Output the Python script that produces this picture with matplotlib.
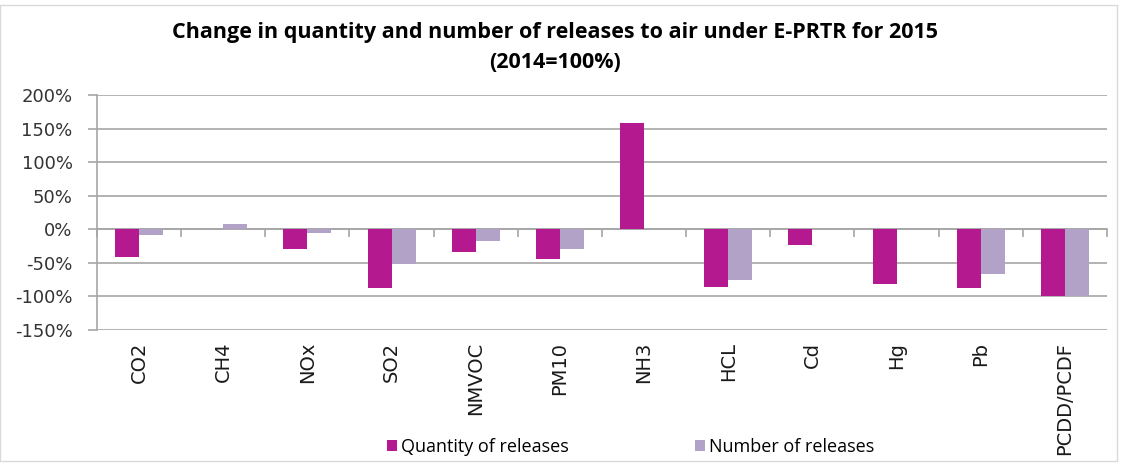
import matplotlib.pyplot as plt
import numpy as np
from matplotlib.patches import Rectangle

# ----- Data -------------------------------------------------------------------------------------------------------- #

POLLUTANTS = ['CO2', 'CH4', 'NOx', 'SO2', 'NMVOC', 'PM10', 'NH3', 'HCL', 'Cd', 'Hg', 'Pb', 'PCDD/PCDF']
QUANTITY_CHANGE = [-41, 0, -29, -87, -34, -45, 159, -86, -24, -82, -88, -100]
NUMBER_CHANGE = [-9, 7.5, -5.5, -51, -18, -30, 0, -76, 0, 0, -67, -100]

Y_TICKS = [-150, -100, -50, 0, 50, 100, 150, 200]

QUANTITY_COLOR = '#B5198F'
NUMBER_COLOR = '#B3A2C7'
GRID_COLOR = '#A6A6A6'

FONT = ['Open Sans', 'DejaVu Sans']
LABEL_FONT = ['DejaVu Sans']

# ----- Plot -------------------------------------------------------------------------------------------------------- #

fig = plt.figure(figsize=(11.26, 4.63), dpi=100)
ax = fig.add_axes([0.0861, 0.2873, 0.897, 0.5075])

x = np.arange(len(POLLUTANTS))
bar_width = 0.285
ax.bar(x - bar_width / 2, QUANTITY_CHANGE, bar_width, color=QUANTITY_COLOR, label='Quantity of releases', zorder=3)
ax.bar(x + bar_width / 2, NUMBER_CHANGE, bar_width, color=NUMBER_COLOR, label='Number of releases', zorder=3)

ax.set_xlim(-0.5, len(POLLUTANTS) - 0.5)
ax.set_ylim(Y_TICKS[0], Y_TICKS[-1])
ax.set_yticks(Y_TICKS)
ax.set_yticklabels([f'{v}%' for v in Y_TICKS], family=LABEL_FONT, fontsize=13, color='#333333')
ax.yaxis.grid(True, color=GRID_COLOR, linewidth=1.2, zorder=0)
ax.tick_params(axis='y', length=6.5, color=GRID_COLOR, width=1.2, pad=11)

ax.set_xticks(x)
ax.set_xticklabels(POLLUTANTS, rotation=90, family=LABEL_FONT, fontsize=14, va='top', color='#1a1a1a')
ax.tick_params(axis='x', length=0, pad=8.5)

for side in ['top', 'right', 'bottom']:
    ax.spines[side].set_visible(False)
ax.spines['left'].set_color(GRID_COLOR)
ax.spines['left'].set_linewidth(1.2)

# Category axis crossing at zero with tick marks between categories
zero_frac = (0 - Y_TICKS[0]) / (Y_TICKS[-1] - Y_TICKS[0])
sec = ax.secondary_xaxis(zero_frac)
sec.set_xticks(np.arange(len(POLLUTANTS) + 1) - 0.5)
sec.set_xticklabels([])
sec.tick_params(axis='x', direction='out', length=5.8, color=GRID_COLOR, width=1.2)
sec.spines['bottom'].set_color(GRID_COLOR)
sec.spines['bottom'].set_linewidth(1.2)
sec.spines['bottom'].set_zorder(4)

fig.text(0.493, 0.929, 'Change in quantity and number of releases to air under E-PRTR for 2015',
         ha='center', va='center', fontsize=15.5, fontweight='bold', family=FONT)
fig.text(0.493, 0.864, '(2014=100%)', ha='center', va='center', fontsize=15.5, fontweight='bold', family=FONT)

fig.legend(loc='center', bbox_to_anchor=(0.56, 0.035), ncol=2, frameon=False,
           prop={'family': FONT, 'size': 13}, handlelength=0.55, handleheight=0.6,
           handletextpad=0.2, columnspacing=7)

# Light chart-area border
fig.patches.append(Rectangle((0.0, 0.005), 0.992, 0.985, transform=fig.transFigure,
                             fill=False, edgecolor='#D9D9D9', linewidth=1))

fig.savefig('out.png', dpi=100)
